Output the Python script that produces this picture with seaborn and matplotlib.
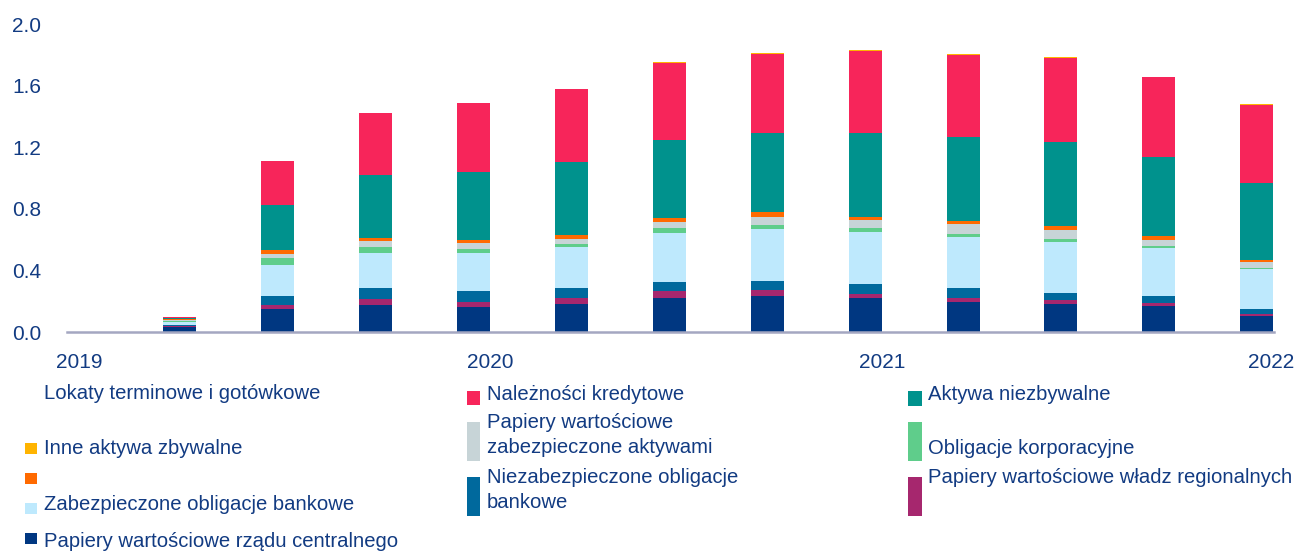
import numpy as np
import pandas as pd
import matplotlib
matplotlib.use("Agg")
import matplotlib.pyplot as plt
import seaborn as sns
from matplotlib.patches import Rectangle

# ---------------- data ----------------
quarters = ["2019Q1", "2019Q2", "2019Q3", "2019Q4",
            "2020Q1", "2020Q2", "2020Q3", "2020Q4",
            "2021Q1", "2021Q2", "2021Q3", "2021Q4", "2022Q1"]

year_labels = ["2019", "2020", "2021", "2022"]

# series from bottom of the stack to the top
rzad_centralny = [0, 0.034, 0.151, 0.177, 0.162, 0.183, 0.222, 0.231, 0.218, 0.196, 0.179, 0.168, 0.106]
wladze_regionalne = [0, 0.006, 0.026, 0.039, 0.030, 0.039, 0.047, 0.039, 0.030, 0.026, 0.026, 0.019, 0.011]
niezabezp_oblig = [0, 0.007, 0.058, 0.069, 0.073, 0.065, 0.058, 0.063, 0.065, 0.065, 0.050, 0.045, 0.032]
zabezp_oblig = [0, 0.020, 0.198, 0.227, 0.246, 0.265, 0.315, 0.337, 0.339, 0.332, 0.330, 0.311, 0.259]
oblig_korporacyjne = [0, 0.006, 0.045, 0.039, 0.026, 0.019, 0.032, 0.026, 0.024, 0.017, 0.019, 0.013, 0.006]
zabezp_aktywami = [0, 0.004, 0.026, 0.039, 0.039, 0.032, 0.039, 0.054, 0.052, 0.067, 0.058, 0.039, 0.039]
bez_nazwy = [0, 0.006, 0.026, 0.019, 0.019, 0.028, 0.026, 0.026, 0.022, 0.019, 0.026, 0.026, 0.013]
aktywa_niezbywalne = [0, 0.006, 0.293, 0.410, 0.447, 0.470, 0.505, 0.518, 0.544, 0.544, 0.544, 0.516, 0.503]
naleznosci = [0, 0.010, 0.289, 0.406, 0.447, 0.479, 0.501, 0.511, 0.531, 0.531, 0.546, 0.516, 0.503]
inne_zbywalne = [0, 0, 0, 0, 0, 0, 0.006, 0.006, 0.006, 0.006, 0.006, 0.006, 0.006]
lokaty = [0] * 13

series_values = [rzad_centralny, wladze_regionalne, niezabezp_oblig, zabezp_oblig,
                 oblig_korporacyjne, zabezp_aktywami, bez_nazwy, aktywa_niezbywalne,
                 naleznosci, inne_zbywalne, lokaty]
series_names = ["Papiery wartościowe rządu centralnego",
                "Papiery wartościowe władz regionalnych",
                "Niezabezpieczone obligacje\nbankowe",
                "Zabezpieczone obligacje bankowe",
                "Obligacje korporacyjne",
                "Papiery wartościowe\nzabezpieczone aktywami",
                "",
                "Aktywa niezbywalne",
                "Należności kredytowe",
                "Inne aktywa zbywalne",
                "Lokaty terminowe i gotówkowe"]
series_colors = ["#003781", "#A6276E", "#00699D", "#BEE9FD", "#5FCD8B",
                 "#C7D4D7", "#FF6A00", "#00928D", "#F7255A", "#FFB400", "#FFFFFF"]

y_ticks = [0.0, 0.4, 0.8, 1.2, 1.6, 2.0]

# ---------------- style ----------------
sns.set_theme(style="white")
plt.rcParams["font.family"] = ["Liberation Sans", "DejaVu Sans"]
text_color = "#123B82"

W, H = 1299, 551
fig = plt.figure(figsize=(W / 100, H / 100), dpi=100)
ax = fig.add_axes([67 / W, (H - 332) / H, (1274 - 67) / W, (332 - 24) / H])

bottom = np.zeros(len(quarters))
for name, vals, col in zip(series_names, series_values, series_colors):
    df = pd.DataFrame({"q": quarters, "v": vals})
    sns.barplot(data=df, x="q", y="v", order=quarters, color=col, saturation=1,
                width=0.337, bottom=bottom.copy(), errorbar=None, linewidth=0, ax=ax)
    bottom += np.array(vals, dtype=float)

ax.set_xlim(-0.153, 12.176)
ax.set_ylim(0, 2.0)
ax.set_yticks(y_ticks)
ax.set_yticklabels([f"{v:.1f}" for v in y_ticks])
ax.set_xticks([-0.03, 4.17, 8.17, 12.15])
ax.set_xticklabels(year_labels)
ax.set_xlabel("")
ax.set_ylabel("")
for s in ["top", "right", "left"]:
    ax.spines[s].set_visible(False)
ax.spines["bottom"].set_color("#A4A7C1")
ax.spines["bottom"].set_linewidth(1.8)
ax.tick_params(axis="both", length=0, labelsize=15, colors=text_color)
ax.tick_params(axis="y", pad=18.5)
ax.tick_params(axis="x", pad=15)
ax.grid(False)

# ---------------- legend (manual layout) ----------------
def fx(x):
    return x / W

def fy(y):
    return 1 - y / H

# (marker x, marker top, w, h, text x, first baseline) per series index
legend_layout = {
    10: (25, 390, 12, 11, 44, 399),
    9: (25, 443, 12, 11, 44, 454),
    6: (25, 473, 12, 11, 44, 484),
    3: (25, 503, 12, 11, 44, 510),
    0: (25, 533, 12, 11, 44, 547),
    8: (467, 391, 13, 14, 487, 400),
    5: (467, 422, 13, 39, 487, 428),
    2: (467, 477, 13, 39, 487, 483),
    7: (908, 391, 14, 15, 928, 400),
    4: (908, 422, 14, 39, 928, 454),
    1: (908, 477, 14, 39, 928, 483),
}
for idx, (mx, my, mw, mh, tx, ty) in legend_layout.items():
    fig.add_artist(Rectangle((fx(mx), fy(my + mh)), mw / W, mh / H,
                             transform=fig.transFigure, facecolor=series_colors[idx],
                             edgecolor="none"))
    for i, line in enumerate(series_names[idx].split("\n")):
        if line:
            fig.text(fx(tx), fy(ty + 25 * i), line, ha="left", va="baseline",
                     fontsize=14.6, color=text_color)

fig.savefig("out.png", dpi=100)
